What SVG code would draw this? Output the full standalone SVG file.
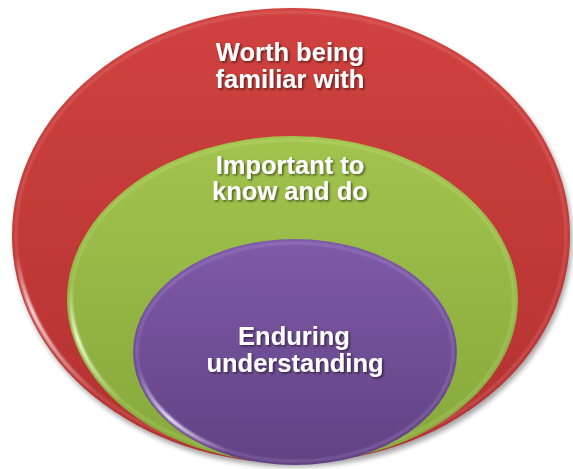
<svg xmlns="http://www.w3.org/2000/svg" width="573" height="469" viewBox="0 0 573 469">
  <style>
    .label { font-family: "Liberation Sans", Arial, sans-serif; font-weight: bold; font-size: 25.5px; fill: #ffffff; text-anchor: middle; filter: url(#textShadow); }
    .rim { fill: none; stroke-width: 2; opacity: 0.25; filter: url(#soft); }
    .gloss { fill: none; stroke-width: 3.5; stroke-linecap: round; filter: url(#soft); }
  </style>
  <defs>
    <linearGradient id="redFill" x1="0" y1="0" x2="0" y2="1">
      <stop offset="0" stop-color="#d0423f"/>
      <stop offset="1" stop-color="#b33131"/>
    </linearGradient>
    <linearGradient id="greenFill" x1="0" y1="0" x2="0" y2="1">
      <stop offset="0" stop-color="#a2c44d"/>
      <stop offset="1" stop-color="#86a73b"/>
    </linearGradient>
    <linearGradient id="purpleFill" x1="0" y1="0" x2="0" y2="1">
      <stop offset="0" stop-color="#7f5aa8"/>
      <stop offset="1" stop-color="#614283"/>
    </linearGradient>
    <linearGradient id="redGloss" gradientUnits="userSpaceOnUse" x1="17" y1="255" x2="97" y2="394">
      <stop offset="0" stop-color="#ffe6e6" stop-opacity="0"/>
      <stop offset="0.35" stop-color="#ffe6e6" stop-opacity="1"/>
      <stop offset="1" stop-color="#ffe6e6" stop-opacity="0"/>
    </linearGradient>
    <linearGradient id="greenGloss" gradientUnits="userSpaceOnUse" x1="72" y1="286" x2="123" y2="402">
      <stop offset="0" stop-color="#f4ffd8" stop-opacity="0"/>
      <stop offset="0.4" stop-color="#f4ffd8" stop-opacity="1"/>
      <stop offset="1" stop-color="#f4ffd8" stop-opacity="0"/>
    </linearGradient>
    <linearGradient id="purpleGloss" gradientUnits="userSpaceOnUse" x1="139" y1="371" x2="228" y2="451">
      <stop offset="0" stop-color="#f2e8ff" stop-opacity="0"/>
      <stop offset="0.45" stop-color="#f2e8ff" stop-opacity="1"/>
      <stop offset="1" stop-color="#f2e8ff" stop-opacity="0"/>
    </linearGradient>
    <filter id="soft" x="-10%" y="-10%" width="120%" height="120%">
      <feGaussianBlur stdDeviation="0.8"/>
    </filter>
    <filter id="shadowBlur" x="-10%" y="-10%" width="120%" height="120%">
      <feGaussianBlur stdDeviation="2.5"/>
    </filter>
    <filter id="textShadow" x="-10%" y="-20%" width="120%" height="150%">
      <feDropShadow dx="1.5" dy="1.5" stdDeviation="1" flood-color="#000000" flood-opacity="0.55"/>
    </filter>
  </defs>

  <!-- soft drop shadow under the stack -->
  <ellipse cx="293" cy="239" rx="279" ry="228" fill="#000000" opacity="0.35" filter="url(#shadowBlur)"/>

  <g id="outer-circle">
    <ellipse cx="291" cy="235.5" rx="279" ry="227.5" fill="url(#redFill)"/>
    <ellipse class="rim" cx="291" cy="235.5" rx="275" ry="223.5" stroke="#ffc0c0"/>
    <path class="gloss" d="M17.1,255 A275,223.5 0 0 0 96.5,393.5" stroke="url(#redGloss)"/>
    <text class="label" x="290" y="60.5">Worth being</text>
    <text class="label" x="290" y="87.5">familiar with</text>
  </g>

  <g id="middle-circle">
    <ellipse cx="292.5" cy="299.5" rx="225.5" ry="163.5" fill="url(#greenFill)"/>
    <ellipse class="rim" cx="292.5" cy="299.5" rx="221.5" ry="159.5" stroke="#eaffc0"/>
    <path class="gloss" d="M71.8,285.6 A221.5,159.5 0 0 0 122.8,402" stroke="url(#greenGloss)"/>
    <text class="label" x="290" y="173.5">Important to</text>
    <text class="label" x="290" y="200">know and do</text>
  </g>

  <g id="inner-circle">
    <ellipse cx="295" cy="352" rx="162" ry="113" fill="url(#purpleFill)"/>
    <ellipse class="rim" cx="295" cy="352" rx="158" ry="109" stroke="#e0ccff"/>
    <path class="gloss" d="M139.4,370.9 A158,109 0 0 0 228.2,450.8" stroke="url(#purpleGloss)"/>
    <text class="label" x="294" y="344.5">Enduring</text>
    <text class="label" x="295" y="371.5">understanding</text>
  </g>

  <g id="connectors"/>
</svg>
